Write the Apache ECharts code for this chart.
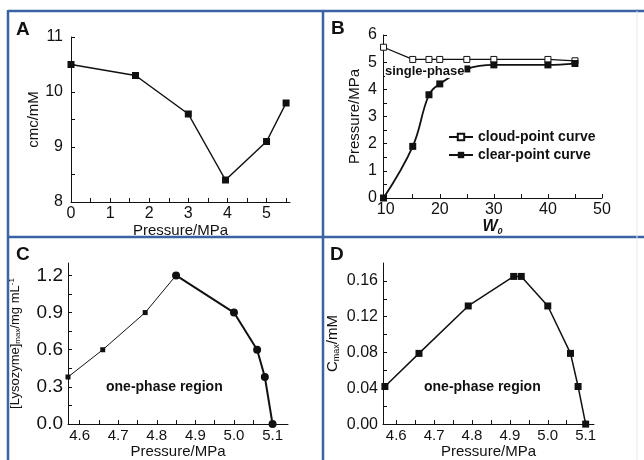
<!DOCTYPE html>
<html>
<head>
<meta charset="utf-8">
<script src="https://cdn.jsdelivr.net/npm/echarts@6/dist/echarts.min.js"></script>
<style>
  html, body { margin: 0; padding: 0; background: #fff; }
  #ec { width: 644px; height: 460px; }
</style>
</head>
<body>
<div id="ec"></div>
<script>
// panel A: cmc vs pressure
var pressA = [0, 1.65, 3, 3.95, 5, 5.5];
var cmcA = [10.5, 10.3, 9.6, 8.4, 9.1, 9.8];

// panel B: phase boundary vs W0
var w0Cloud = [9.6, 15, 18, 20, 25, 30, 40, 45];
var pCloud = [5.55, 5.1, 5.1, 5.1, 5.1, 5.1, 5.1, 5.05];
var w0Clear = [9.6, 15, 18, 20, 25, 30, 40, 45];
var pClear = [0, 1.9, 3.8, 4.2, 4.75, 4.9, 4.9, 4.95];

// panel C: max lysozyme
var pressC1 = [4.57, 4.66, 4.77, 4.85];
var lysC1 = [0.38, 0.6, 0.9, 1.2];
var pressC2 = [4.85, 5.0, 5.06, 5.08, 5.1];
var lysC2 = [1.2, 0.9, 0.6, 0.38, 0.0];

// panel D: Cmax
var pressD = [4.57, 4.66, 4.79, 4.91, 4.93, 5.0, 5.06, 5.08, 5.1];
var cmaxD = [0.042, 0.079, 0.132, 0.165, 0.165, 0.132, 0.079, 0.042, 0.0];

// tick labels
var xTicksA = [0, 1, 2, 3, 4, 5];
var yTicksA = [8, 9, 10, 11];
var xTicksB = [10, 20, 30, 40, 50];
var yTicksB = [0, 1, 2, 3, 4, 5, 6];
var xTicksCD = [4.6, 4.7, 4.8, 4.9, 5.0, 5.1];
var yTicksC = [0, 0.3, 0.6, 0.9, 1.2];
var yTicksD = [0, 0.04, 0.08, 0.12, 0.16];

function zip(xs, ys) {
  return xs.map(function (x, i) { return [x, ys[i]]; });
}
function halfSteps(ticks) {
  var out = [];
  for (var i = 0; i < ticks.length; i++) {
    out.push(ticks[i]);
    if (i < ticks.length - 1) out.push((ticks[i] + ticks[i + 1]) / 2);
  }
  return out;
}

var font = 'Liberation Sans, Arial, sans-serif';

function axis(o) {
  return {
    type: 'value',
    gridIndex: o.grid,
    min: o.min,
    max: o.max,
    name: o.name,
    nameLocation: 'middle',
    nameGap: o.gap,
    nameTextStyle: Object.assign({ fontFamily: font, fontSize: 15, color: '#111' }, o.nameStyle || {}),
    axisLine: { show: true, onZero: false, lineStyle: { color: '#111', width: 1 } },
    axisTick: { show: true, inside: true, length: 4, customValues: o.tickVals, lineStyle: { color: '#111' } },
    axisLabel: {
      customValues: o.labels, fontFamily: font, fontSize: o.fs || 16, color: '#111', margin: o.margin || 4,
      formatter: function (v) { return o.fmt ? o.fmt(v) : String(v); }
    },
    splitLine: { show: false }
  };
}

var myChart = echarts.init(document.getElementById('ec'));

myChart.setOption({
  backgroundColor: '#fff',
  animation: false,
  grid: [
    { left: 71, top: 37, width: 219, height: 165 },
    { left: 383, top: 35, width: 219, height: 163 },
    { left: 68, top: 263, width: 220, height: 164 },
    { left: 383, top: 263, width: 211, height: 164 }
  ],
  legend: {
    left: 443, top: 125, orient: 'vertical', itemWidth: 24, itemHeight: 8, itemGap: 4,
    textStyle: { fontFamily: font, fontSize: 14, fontWeight: 'bold', color: '#111' },
    data: ['cloud-point curve', 'clear-point curve']
  },
  xAxis: [
    axis({ grid: 0, min: 0, max: 5.6, name: 'Pressure/MPa', gap: 17, labels: xTicksA, tickVals: halfSteps(xTicksA).concat([5.5]) }),
    axis({ grid: 1, min: 9.5, max: 50, name: 'W{sub|0}', gap: 17, labels: xTicksB, tickVals: halfSteps(xTicksB),
      nameStyle: { fontStyle: 'italic', fontWeight: 'bold', fontSize: 16, rich: { sub: { fontSize: 9, fontWeight: 'bold', padding: [9, 0, 0, 0] } } } }),
    axis({ grid: 2, min: 4.57, max: 5.14, name: 'Pressure/MPa', gap: 18, labels: xTicksCD, tickVals: halfSteps(xTicksCD), fs: 15, fmt: function (v) { return v.toFixed(1); } }),
    axis({ grid: 3, min: 4.565, max: 5.122, name: 'Pressure/MPa', gap: 18, labels: xTicksCD, tickVals: halfSteps(xTicksCD), fs: 15, fmt: function (v) { return v.toFixed(1); } })
  ],
  yAxis: [
    axis({ grid: 0, min: 8, max: 11, name: 'cmc/mM', gap: 30, labels: yTicksA, tickVals: halfSteps(yTicksA), margin: 8 }),
    axis({ grid: 1, min: 0, max: 6, name: 'Pressure/MPa', gap: 21, labels: yTicksB, tickVals: halfSteps(yTicksB), margin: 6 }),
    axis({ grid: 2, min: 0, max: 1.3, name: '[Lysozyme]{sub|max}/mg mL{sup|-1}', gap: 46, labels: yTicksC, tickVals: halfSteps(yTicksC), fs: 19, margin: 5,
      fmt: function (v) { return v.toFixed(1); },
      nameStyle: { fontSize: 13, rich: { sub: { fontSize: 8, padding: [6, 0, 0, 0] }, sup: { fontSize: 8, padding: [0, 0, 6, 0] } } } }),
    axis({ grid: 3, min: 0, max: 0.18, name: 'C{sub|max}/mM', gap: 42, labels: yTicksD, tickVals: halfSteps(yTicksD), fs: 16, margin: 5,
      fmt: function (v) { return v.toFixed(2); },
      nameStyle: { fontSize: 15, rich: { sub: { fontSize: 9, padding: [8, 0, 0, 0] } } } })
  ],
  series: [
    {
      type: 'line', xAxisIndex: 0, yAxisIndex: 0, data: zip(pressA, cmcA),
      symbol: 'rect', symbolSize: 7, lineStyle: { color: '#111', width: 1.5 }, itemStyle: { color: '#111' }
    },
    {
      name: 'cloud-point curve', type: 'line', xAxisIndex: 1, yAxisIndex: 1, data: zip(w0Cloud, pCloud),
      symbol: 'rect', symbolSize: 6, lineStyle: { color: '#111', width: 1.3 },
      itemStyle: { color: '#fff', borderColor: '#111', borderWidth: 1 }
    },
    {
      name: 'clear-point curve', type: 'line', xAxisIndex: 1, yAxisIndex: 1, data: zip(w0Clear, pClear),
      smooth: 0.4, symbol: 'rect', symbolSize: 7, lineStyle: { color: '#111', width: 1.8 }, itemStyle: { color: '#111' }
    },
    {
      type: 'line', xAxisIndex: 2, yAxisIndex: 2, data: zip(pressC1, lysC1),
      symbol: 'rect', symbolSize: 5, lineStyle: { color: '#111', width: 1 }, itemStyle: { color: '#111' }
    },
    {
      type: 'line', xAxisIndex: 2, yAxisIndex: 2, data: zip(pressC2, lysC2),
      symbol: 'circle', symbolSize: 8, lineStyle: { color: '#111', width: 2 }, itemStyle: { color: '#111' }
    },
    {
      type: 'line', xAxisIndex: 3, yAxisIndex: 3, data: zip(pressD, cmaxD),
      symbol: 'rect', symbolSize: 7, lineStyle: { color: '#111', width: 1.5 }, itemStyle: { color: '#111' }
    }
  ],
  graphic: [
    // panel frames
    { type: 'line', shape: { x1: 8, y1: 11, x2: 644, y2: 11 }, style: { stroke: '#3b62a3', lineWidth: 2.5 } },
    { type: 'line', shape: { x1: 8, y1: 10, x2: 8, y2: 460 }, style: { stroke: '#3b62a3', lineWidth: 2.5 } },
    { type: 'line', shape: { x1: 323, y1: 11, x2: 323, y2: 460 }, style: { stroke: '#3b62a3', lineWidth: 2.5 } },
    { type: 'line', shape: { x1: 8, y1: 237, x2: 644, y2: 237 }, style: { stroke: '#3b62a3', lineWidth: 2.5 } },
    { type: 'line', shape: { x1: 637, y1: 11, x2: 637, y2: 460 }, style: { stroke: '#e4e8f0', lineWidth: 1 } },
    // panel letters
    { type: 'text', left: 16, top: 20, style: { text: 'A', font: 'bold 19px ' + font, fill: '#111' } },
    { type: 'text', left: 331, top: 19, style: { text: 'B', font: 'bold 19px ' + font, fill: '#111' } },
    { type: 'text', left: 16, top: 245, style: { text: 'C', font: 'bold 19px ' + font, fill: '#111' } },
    { type: 'text', left: 330, top: 245, style: { text: 'D', font: 'bold 19px ' + font, fill: '#111' } },
    // annotations
    { type: 'text', left: 385, top: 65, z: 10, style: { text: 'single-phase', font: 'bold 13px ' + font, fill: '#111', backgroundColor: '#fff' } },
    { type: 'text', left: 106, top: 380, style: { text: 'one-phase region', font: 'bold 14px ' + font, fill: '#111' } },
    { type: 'text', left: 424, top: 380, style: { text: 'one-phase region', font: 'bold 14px ' + font, fill: '#111' } }
  ]
});
</script>
</body>
</html>
